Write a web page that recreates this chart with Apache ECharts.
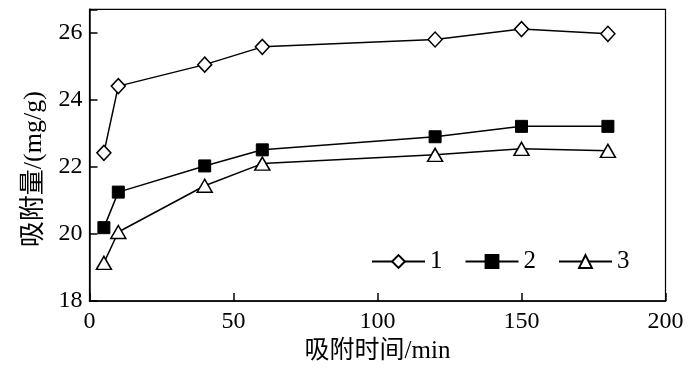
<!DOCTYPE html>
<html>
<head>
<meta charset="utf-8">
<script src="https://cdn.jsdelivr.net/npm/echarts@6/dist/echarts.min.js"></script>
<style>html,body{margin:0;padding:0;background:#fff}#c{width:700px;height:369px}</style>
</head>
<body>
<div id="c"></div>
<script>
const times = [5, 10, 40, 60, 120, 150, 180];
const series1 = [22.42, 24.41, 25.05, 25.58, 25.80, 26.11, 25.97];
const series2 = [20.19, 21.25, 22.03, 22.51, 22.90, 23.21, 23.21];
const series3 = [19.14, 20.06, 21.44, 22.10, 22.36, 22.54, 22.48];
const seriesNames = ['1', '2', '3'];
const xTitle = '吸附时间/min';
const yTitle = '吸附量/(mg/g)';

const FONT = '"Liberation Serif", "Noto Sans CJK SC", serif';
function pairs(vals) { return times.map((t, i) => [t, vals[i]]); }

const chart = echarts.init(document.getElementById('c'), null, {renderer: 'canvas'});
const common = {
  type: 'line',
  lineStyle: {color: '#000', width: 1.5},
  itemStyle: {color: '#fff', borderColor: '#000', borderWidth: 1.5},
  showSymbol: true,
  animation: false,
  z: 3
};
chart.setOption({
  backgroundColor: '#fff',
  animation: false,
  grid: {left: 89.5, right: 34.5, top: 9.3, bottom: 67.5, show: true, borderColor: '#000', borderWidth: 1.2},
  legend: {
    left: 366, top: 244,
    itemWidth: 53, itemHeight: 16, itemGap: 22,
    textStyle: {fontFamily: FONT, fontSize: 25, color: '#000'},
    data: seriesNames
  },
  xAxis: {
    type: 'value', min: 0, max: 200, interval: 50,
    name: xTitle, nameLocation: 'middle', nameGap: 37,
    nameTextStyle: {fontFamily: FONT, fontSize: 25, color: '#000'},
    axisLine: {lineStyle: {color: '#000', width: 1.5}},
    axisTick: {inside: true, length: 8, lineStyle: {color: '#000', width: 1.5}},
    axisLabel: {fontFamily: FONT, fontSize: 24, color: '#000', margin: 9},
    splitLine: {show: false}
  },
  yAxis: {
    type: 'value', min: 18, max: 26.7, interval: 2,
    name: yTitle, nameLocation: 'middle', nameGap: 40,
    nameTextStyle: {fontFamily: FONT, fontSize: 26, color: '#000', padding: [0, 28, 0, 0]},
    axisLine: {lineStyle: {color: '#000', width: 1.5}},
    axisTick: {inside: true, length: 8, lineStyle: {color: '#000', width: 1.5}},
    axisLabel: {fontFamily: FONT, fontSize: 24, color: '#000', margin: 7,
      formatter: v => (Math.abs(v - Math.round(v)) < 1e-6 && Math.round(v) % 2 === 0) ? String(Math.round(v)) : ''},
    splitLine: {show: false}
  },
  series: [
    Object.assign({}, common, {name: seriesNames[0], data: pairs(series1), symbol: 'diamond', symbolSize: [14, 15]}),
    Object.assign({}, common, {name: seriesNames[1], data: pairs(series2), symbol: 'rect', symbolSize: 12,
      itemStyle: {color: '#000', borderColor: '#000', borderWidth: 1}}),
    Object.assign({}, common, {name: seriesNames[2], data: pairs(series3), symbol: 'triangle', symbolSize: [15, 13]})
  ]
});
</script>
</body>
</html>
